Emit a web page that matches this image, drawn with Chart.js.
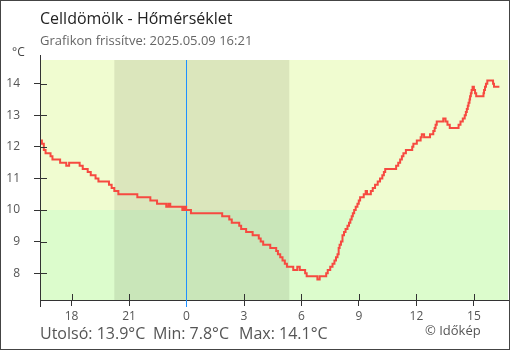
<!DOCTYPE html>
<html>
<head>
<meta charset="utf-8">
<script src="https://cdn.jsdelivr.net/npm/chart.js@4.4.1/dist/chart.umd.min.js"></script>
<style>
  html, body { margin: 0; padding: 0; background: #fff; }
  canvas { display: block; }
</style>
</head>
<body>
<canvas id="tempChart" width="510" height="350"></canvas>
<script>
// hours relative to midnight (2025.05.09), temperature readings in °C
const hours = [
  -7.65, -7.55, -7.45, -7.36, -7.10, -7.00, -6.60, -6.28, -6.13, -5.58,
  -5.42, -5.16, -5.00, -4.75, -4.60, -4.05, -3.91, -3.77, -3.56, -2.57,
  -1.89, -1.54, -1.06, -0.95, -0.85, -0.22, -0.12, -0.02, 0.23, 1.86,
  2.23, 2.36, 2.75, 2.85, 3.11, 3.45, 3.77, 3.87, 4.00, 4.37,
  4.68, 4.77, 4.89, 5.01, 5.13, 5.24, 5.57, 5.78, 5.91, 6.19,
  6.27, 6.83, 6.95, 7.29, 7.37, 7.50, 7.62, 7.72, 7.80, 7.88,
  7.94, 7.99, 8.06, 8.14, 8.22, 8.30, 8.40, 8.48, 8.55, 8.62,
  8.68, 8.75, 8.83, 8.92, 8.99, 9.06, 9.25, 9.35, 9.42, 9.62,
  9.72, 9.84, 9.98, 10.10, 10.22, 10.30, 10.37, 10.94, 11.05, 11.15,
  11.24, 11.32, 11.45, 11.78, 11.84, 12.02, 12.22, 12.28, 12.40, 12.71,
  12.88, 12.95, 13.00, 13.06, 13.40, 13.52, 13.62, 13.74, 14.20, 14.30,
  14.42, 14.52, 14.58, 14.63, 14.68, 14.72, 14.77, 14.80, 14.84, 14.88,
  14.93, 15.00, 15.06, 15.12, 15.50, 15.53, 15.58, 15.63, 15.70, 16.00,
  16.05, 16.33
];
const temps = [
  12.2, 12.1, 11.9, 11.8, 11.7, 11.6, 11.5, 11.4, 11.5, 11.4,
  11.3, 11.2, 11.1, 11.0, 10.9, 10.8, 10.7, 10.6, 10.5, 10.4,
  10.3, 10.2, 10.1, 10.2, 10.1, 10.0, 10.1, 10.0, 9.9, 9.8,
  9.7, 9.6, 9.5, 9.4, 9.3, 9.2, 9.1, 9.0, 8.9, 8.8,
  8.7, 8.6, 8.5, 8.4, 8.3, 8.2, 8.1, 8.2, 8.1, 8.0,
  7.9, 7.8, 7.9, 8.0, 8.1, 8.2, 8.3, 8.4, 8.5, 8.6,
  8.8, 8.9, 9.0, 9.2, 9.3, 9.4, 9.5, 9.6, 9.7, 9.8,
  9.9, 10.0, 10.1, 10.2, 10.3, 10.4, 10.5, 10.6, 10.5, 10.6,
  10.7, 10.8, 10.9, 11.0, 11.1, 11.2, 11.3, 11.4, 11.5, 11.6,
  11.7, 11.8, 11.9, 12.0, 12.1, 12.2, 12.3, 12.4, 12.3, 12.4,
  12.5, 12.6, 12.7, 12.8, 12.9, 12.8, 12.7, 12.6, 12.7, 12.8,
  12.9, 13.0, 13.1, 13.2, 13.3, 13.4, 13.5, 13.6, 13.7, 13.8,
  13.9, 13.8, 13.7, 13.6, 13.7, 13.8, 13.9, 14.0, 14.1, 14.0,
  13.9, 13.9
];

const xTickHours = [-6, -3, 0, 3, 6, 9, 12, 15];
const xTickLabels = ['18', '21', '0', '3', '6', '9', '12', '15'];
const yTicks = [8, 9, 10, 11, 12, 13, 14];

const nightStart = -3.77;   // sunset 20:14
const nightEnd = 5.36;      // sunrise 05:21
const warmLimit = 10;

const titleText = 'Celldömölk - Hőmérséklet';
const updatedText = 'Grafikon frissítve: 2025.05.09 16:21';
const creditText = '© Időkép';

const FONT = "'Open Sans', 'Noto Sans', sans-serif";

const lastTemp = temps[temps.length - 1];
const minTemp = Math.min(...temps);
const maxTemp = Math.max(...temps);

const backdrop = {
  id: 'backdrop',
  beforeDraw(chart) {
    const { ctx, chartArea: a, scales: { x, y } } = chart;
    const yLim = y.getPixelForValue(warmLimit);
    ctx.save();
    ctx.fillStyle = '#f0fcd0';
    ctx.fillRect(a.left, a.top, a.right - a.left, yLim - a.top);
    ctx.fillStyle = '#dcfccc';
    ctx.fillRect(a.left, yLim, a.right - a.left, a.bottom - yLim);
    const x0 = x.getPixelForValue(nightStart);
    const x1 = x.getPixelForValue(nightEnd);
    ctx.fillStyle = 'rgba(40, 40, 20, 0.1)';
    ctx.fillRect(x0, a.top, x1 - x0, a.bottom - a.top);
    ctx.restore();
  },
  beforeDatasetsDraw(chart) {
    // midnight marker
    const { ctx, chartArea: a, scales: { x } } = chart;
    const xm = Math.round(x.getPixelForValue(0)) - 1;
    ctx.save();
    ctx.fillStyle = '#1e90ff';
    ctx.fillRect(xm, a.top, 1, a.bottom - a.top + 7);
    ctx.restore();
  },
  afterDraw(chart) {
    const { ctx, chartArea: a, scales: { x, y } } = chart;
    ctx.save();
    ctx.strokeStyle = '#333';
    ctx.lineWidth = 1;
    ctx.beginPath();
    // axis line runs a little past the plot at both ends
    ctx.moveTo(a.left + 0.5, a.top - 5);
    ctx.lineTo(a.left + 0.5, a.bottom + 7);
    // inner halves of the tick marks
    yTicks.forEach(v => {
      const py = Math.round(y.getPixelForValue(v)) + 0.5;
      ctx.moveTo(a.left, py);
      ctx.lineTo(a.left + 7, py);
    });
    xTickHours.forEach(v => {
      if (v === 0) return;
      const px = Math.round(x.getPixelForValue(v)) + 0.5;
      ctx.moveTo(px, a.bottom);
      ctx.lineTo(px, a.bottom - 6);
    });
    ctx.stroke();

    ctx.textBaseline = 'alphabetic';
    ctx.textAlign = 'left';
    ctx.fillStyle = '#222';
    ctx.font = '16px ' + FONT;
    ctx.fillText(titleText, 40, 24);
    ctx.fillStyle = '#666';
    ctx.font = '13px ' + FONT;
    ctx.fillText(updatedText, 40, 45);
    ctx.fillStyle = '#444';
    ctx.font = '12px ' + FONT;
    ctx.fillText('°C', 12, 56);

    ctx.fillStyle = '#555';
    ctx.font = '16px ' + FONT;
    ctx.fillText('Utolsó: ' + lastTemp.toFixed(1) + '°C', 40, 339);
    ctx.fillText('Min: ' + minTemp.toFixed(1) + '°C', 153, 339);
    ctx.fillText('Max: ' + maxTemp.toFixed(1) + '°C', 239, 339);
    ctx.font = '13px ' + FONT;
    ctx.fillText(creditText, 425, 335);

    ctx.strokeStyle = '#444';
    ctx.strokeRect(0.5, 0.5, chart.width - 1, chart.height - 1);
    ctx.restore();
  }
};

new Chart(document.getElementById('tempChart'), {
  type: 'line',
  data: {
    datasets: [{
      data: hours.map((h, i) => ({ x: h, y: temps[i] })),
      borderColor: '#f64a40',
      borderWidth: 2,
      pointRadius: 0,
      stepped: true,
      tension: 0
    }]
  },
  options: {
    responsive: false,
    animation: false,
    devicePixelRatio: 1,
    layout: { padding: { top: 60, right: 2, left: 0, bottom: 0 } },
    plugins: {
      legend: { display: false },
      tooltip: { enabled: false }
    },
    scales: {
      x: {
        type: 'linear',
        min: -7.65,
        max: 16.78,
        afterBuildTicks: s => { s.ticks = xTickHours.map(v => ({ value: v })); },
        afterFit: s => { s.height = 50; },
        ticks: {
          callback: (v, i) => xTickLabels[i],
          color: '#555',
          font: { family: FONT, size: 12 },
          padding: 3,
          maxRotation: 0,
          autoSkip: false
        },
        grid: {
          drawOnChartArea: false,
          tickLength: 6,
          color: ctx => ctx.tick && ctx.tick.value === 0 ? 'rgba(0,0,0,0)' : '#333'
        },
        border: { color: '#333' }
      },
      y: {
        min: 7.15,
        max: 14.75,
        afterBuildTicks: s => { s.ticks = yTicks.map(v => ({ value: v })); },
        afterFit: s => { s.width = 40; },
        ticks: {
          color: '#555',
          font: { family: FONT, size: 12 },
          padding: 14
        },
        grid: { drawOnChartArea: false, tickLength: 6, color: '#333' },
        border: { color: '#333' }
      }
    }
  },
  plugins: [backdrop]
});
</script>
</body>
</html>
